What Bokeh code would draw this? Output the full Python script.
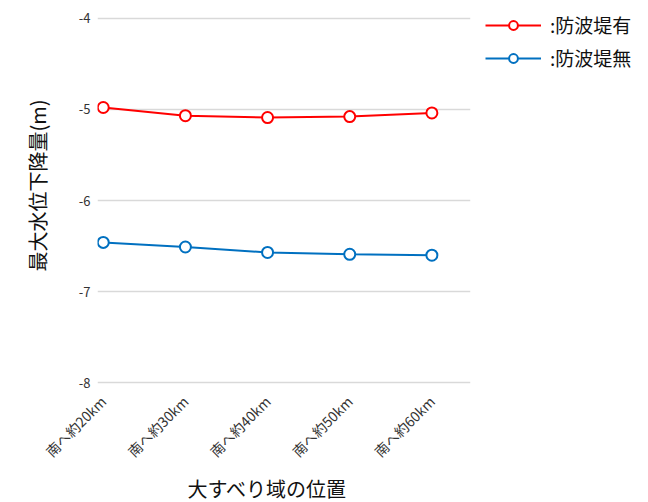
import math
from bokeh.plotting import figure
from bokeh.models import Range1d, FixedTicker, Legend, LegendItem, Title
from bokeh.embed import file_html
from bokeh.resources import INLINE

categories = ["南へ約20km", "南へ約30km", "南へ約40km", "南へ約50km", "南へ約60km"]
with_breakwater = [-4.98, -5.07, -5.09, -5.08, -5.04]
without_breakwater = [-6.46, -6.51, -6.57, -6.59, -6.60]
y_ticks = [-8, -7, -6, -5, -4]
series_names = [":防波堤有", ":防波堤無"]
series_colors = ["#FF0000", "#0070C0"]
x_title = "大すべり域の位置"
y_title = "最大水位下降量(m)"

FONT = "Noto Sans CJK JP"
xs = list(range(len(categories)))

p = figure(frame_width=373, frame_height=372, output_backend="svg", toolbar_location=None,
           x_range=Range1d(-0.07, len(categories) - 1 + 0.47),
           y_range=Range1d(-8.04, -3.96),
           min_border_left=95, min_border_top=14, min_border_bottom=110,
           min_border_right=0)
p.outline_line_color = None
p.background_fill_color = "white"

p.xgrid.grid_line_color = None
p.ygrid.grid_line_color = "#D9D9D9"
p.ygrid.grid_line_width = 1.5

p.xaxis.ticker = FixedTicker(ticks=xs)
p.xaxis.major_label_overrides = {i: c for i, c in enumerate(categories)}
p.xaxis.major_label_orientation = math.pi / 4
p.yaxis.ticker = FixedTicker(ticks=y_ticks)
p.yaxis.major_label_overrides = {t: str(t) for t in y_ticks}
for ax in (p.xaxis[0], p.yaxis[0]):
    ax.axis_line_color = None
    ax.major_tick_line_color = None
    ax.minor_tick_line_color = None
    ax.major_tick_out = 0
    ax.major_tick_in = 0
    ax.minor_tick_out = 0
    ax.major_label_text_font = FONT
    ax.major_label_text_color = "#333333"
p.xaxis.major_label_text_font_size = "14px"
p.yaxis.major_label_text_font_size = "13px"
p.yaxis.major_label_standoff = 7
p.xaxis.major_label_standoff = 12

p.add_layout(Title(text=x_title, align="left", offset=90, standoff=2,
                   text_font=FONT, text_font_size="20px", text_font_style="normal",
                   text_color="#111111"), "below")
p.add_layout(Title(text=y_title, align="left", offset=115, standoff=44,
                   vertical_align="top",
                   text_font=FONT, text_font_size="20px", text_font_style="normal",
                   text_color="#111111"), "left")

items = []
for name, color, ys in zip(series_names, series_colors, [with_breakwater, without_breakwater]):
    l = p.line(xs, ys, line_color=color, line_width=2)
    s = p.scatter(xs, ys, size=11, marker="circle", line_color=color,
                  line_width=2, fill_color="white")
    items.append(LegendItem(label=name, renderers=[l, s]))

legend = Legend(items=items, location=(15, 315), border_line_color=None,
                background_fill_alpha=0, label_text_font=FONT,
                label_text_font_size="19px", label_text_color="#111111",
                glyph_width=56, glyph_height=22,
                spacing=6, padding=2, margin=0, label_standoff=9)
p.add_layout(legend, "right")

open("out.html", "w").write(file_html(p, INLINE))
